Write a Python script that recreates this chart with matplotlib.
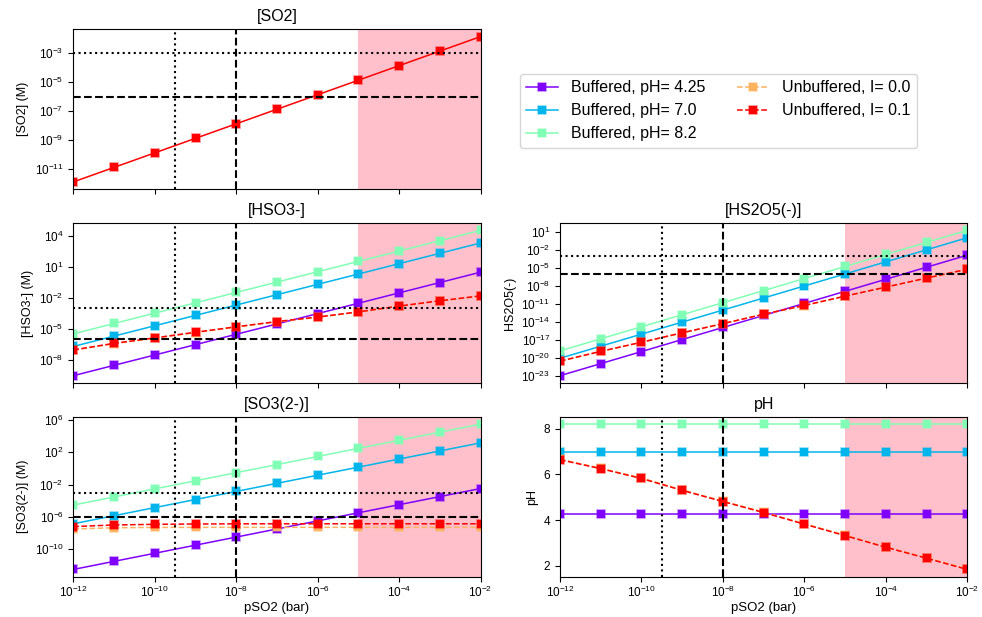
import matplotlib.pyplot as plt
from matplotlib.colors import to_rgba
from matplotlib.ticker import NullLocator

plt.rcParams['font.family'] = ['Liberation Sans', 'DejaVu Sans']

# pSO2 (bar) sampled at each decade
p_so2 = [1e-12, 1e-11, 1e-10, 1e-9, 1e-8, 1e-7, 1e-6, 1e-5, 1e-4, 1e-3, 1e-2]

labels = ['Buffered, pH= 4.25', 'Buffered, pH= 7.0', 'Buffered, pH= 8.2',
          'Unbuffered, I= 0.0', 'Unbuffered, I= 0.1']

# [SO2] is the same for every case (Henry's law), only one curve shows
so2 = [1.36e-12, 1.36e-11, 1.36e-10, 1.36e-9, 1.36e-8, 1.36e-7,
       1.36e-6, 1.36e-5, 1.36e-4, 1.36e-3, 1.36e-2]

# [HSO3-]
hso3_425 = [3.0e-10, 3.0e-9, 3.0e-8, 3.0e-7, 3.0e-6, 3.0e-5, 3.0e-4, 3.0e-3, 3.0e-2, 0.30, 3.0]
hso3_70 = [2.0e-7, 2.0e-6, 2.0e-5, 2.0e-4, 2.0e-3, 2.0e-2, 0.20, 2.0, 20.0, 200.0, 2000.0]
hso3_82 = [3.3e-6, 3.3e-5, 3.3e-4, 3.3e-3, 3.3e-2, 0.33, 3.3, 33.0, 330.0, 3300.0, 33000.0]
hso3_i00 = [8.6e-8, 3.7e-7, 1.25e-6, 4.4e-6, 1.5e-5, 4.8e-5, 1.3e-4, 4.1e-4, 1.5e-3, 4.9e-3, 1.45e-2]
hso3_i01 = [9.3e-8, 4.0e-7, 1.35e-6, 4.7e-6, 1.6e-5, 5.1e-5, 1.4e-4, 4.4e-4, 1.6e-3, 5.2e-3, 1.55e-2]

# [HS2O5-]
hs2o5_425 = [1.26e-23, 1.26e-21, 1.26e-19, 1.26e-17, 1.26e-15, 1.26e-13,
             1.26e-11, 1.26e-9, 1.26e-7, 1.26e-5, 1.26e-3]
hs2o5_70 = [9.8e-21, 9.8e-19, 9.8e-17, 9.8e-15, 9.8e-13, 9.8e-11,
            9.8e-9, 9.8e-7, 9.8e-5, 9.8e-3, 0.98]
hs2o5_82 = [1.66e-19, 1.66e-17, 1.66e-15, 1.66e-13, 1.66e-11, 1.66e-9,
            1.66e-7, 1.66e-5, 1.66e-3, 0.166, 16.6]
hs2o5_i00 = [3.0e-21, 1.3e-19, 4.2e-18, 1.55e-16, 5.2e-15, 1.9e-13,
             5.4e-12, 1.9e-10, 5.9e-9, 1.9e-7, 5.5e-6]
hs2o5_i01 = [3.3e-21, 1.38e-19, 4.5e-18, 1.66e-16, 5.5e-15, 2.0e-13,
             5.8e-12, 2.0e-10, 6.3e-9, 2.0e-7, 5.9e-6]

# [SO3(2-)]
so3_425 = [3.2e-13, 3.2e-12, 3.2e-11, 3.2e-10, 3.2e-9, 3.2e-8, 3.2e-7, 3.2e-6, 3.2e-5, 3.2e-4, 3.2e-3]
so3_70 = [1.4e-7, 1.4e-6, 1.4e-5, 1.4e-4, 1.4e-3, 1.4e-2, 0.14, 1.4, 14.0, 140.0, 1400.0]
so3_82 = [2.9e-5, 2.9e-4, 2.9e-3, 2.9e-2, 0.29, 2.9, 29.0, 290.0, 2900.0, 29000.0, 290000.0]
so3_i00 = [3.2e-8, 4.5e-8, 5.0e-8, 5.1e-8, 5.1e-8, 5.1e-8, 5.1e-8, 5.1e-8, 5.1e-8, 5.1e-8, 5.1e-8]
so3_i01 = [6.3e-8, 1.0e-7, 1.2e-7, 1.32e-7, 1.38e-7, 1.4e-7, 1.4e-7, 1.4e-7, 1.4e-7, 1.4e-7, 1.4e-7]

# pH
ph_425 = [4.25] * 11
ph_70 = [7.0] * 11
ph_82 = [8.2] * 11
ph_i00 = [6.66, 6.27, 5.84, 5.32, 4.83, 4.35, 3.84, 3.34, 2.83, 2.35, 1.86]
ph_i01 = [6.64, 6.25, 5.82, 5.30, 4.81, 4.33, 3.82, 3.32, 2.81, 2.33, 1.84]

colors = [plt.cm.rainbow(v) for v in (0.0, 0.25, 0.5, 0.75, 1.0)]
styles = ['-', '-', '-', '--', '--']

fig, axs = plt.subplots(3, 2, figsize=(9.82, 6.17), dpi=100, sharex=True)
fig.subplots_adjust(left=0.0747, right=0.985, bottom=0.0653, top=0.9525,
                    wspace=0.195, hspace=0.212)

panels = [
    (axs[1, 0], '[HSO3-]', '[HSO3-] (M)', [hso3_425, hso3_70, hso3_82, hso3_i00, hso3_i01],
     [1e-8, 1e-5, 1e-2, 1e1, 1e4]),
    (axs[1, 1], '[HS2O5(-)]', 'HS2O5(-)', [hs2o5_425, hs2o5_70, hs2o5_82, hs2o5_i00, hs2o5_i01],
     [1e-23, 1e-20, 1e-17, 1e-14, 1e-11, 1e-8, 1e-5, 1e-2, 1e1]),
    (axs[2, 0], '[SO3(2-)]', '[SO3(2-)] (M)', [so3_425, so3_70, so3_82, so3_i00, so3_i01],
     [1e-10, 1e-6, 1e-2, 1e2, 1e6]),
    (axs[2, 1], 'pH', 'pH', [ph_425, ph_70, ph_82, ph_i00, ph_i01], None),
]


def decorate(ax, title, ylabel, yticks):
    ax.axvspan(1e-5, 1e-2, color='pink', zorder=0, lw=0)
    ax.axvline(3.16e-10, color='black', ls=':', lw=1.5)
    ax.axvline(1e-8, color='black', ls='--', lw=1.5)
    if yticks is not None:
        ax.set_yscale('log')
        ax.axhline(1e-3, color='black', ls=':', lw=1.5)
        ax.axhline(1e-6, color='black', ls='--', lw=1.5)
        ax.set_yticks(yticks)
        ax.yaxis.set_minor_locator(NullLocator())
    ax.set_title(title, fontsize=11.5)
    ax.set_ylabel(ylabel, fontsize=9)
    ax.tick_params(labelsize=8.5)
    ax.tick_params(axis='x', pad=2.5)


for ax, title, ylabel, series, yticks in panels:
    for y, c, ls, lab in zip(series, colors, styles, labels):
        ax.plot(p_so2, y, ls, marker='s', color=c, lw=1.1, ms=5.5,
                mec=to_rgba(c, 0.45), mew=1.2, label=lab)
    decorate(ax, title, ylabel, yticks)

# SO2 panel: a single solid red curve
ax = axs[0, 0]
ax.plot(p_so2, so2, '-', marker='s', color=colors[4], lw=1.1, ms=5.5,
        mec=to_rgba(colors[4], 0.45), mew=1.2)
decorate(ax, '[SO2]', '[SO2] (M)', [1e-11, 1e-9, 1e-7, 1e-5, 1e-3])

axs[2, 0].set_xscale('log')
axs[2, 0].set_xlim(1e-12, 1e-2)
axs[2, 0].set_xticks([1e-12, 1e-10, 1e-8, 1e-6, 1e-4, 1e-2])
axs[2, 0].xaxis.set_minor_locator(NullLocator())
axs[2, 0].set_xlabel('pSO2 (bar)', fontsize=9.5, labelpad=1)
axs[2, 1].set_xlabel('pSO2 (bar)', fontsize=9.5, labelpad=1)

axs[0, 1].axis('off')
handles, labs = axs[1, 0].get_legend_handles_labels()
fig.legend(handles, labs, ncol=2, fontsize=11.5, loc='upper left',
           borderaxespad=0, bbox_to_anchor=(520 / 982, 1 - 74 / 617))

fig.savefig('out.png', dpi=100)
